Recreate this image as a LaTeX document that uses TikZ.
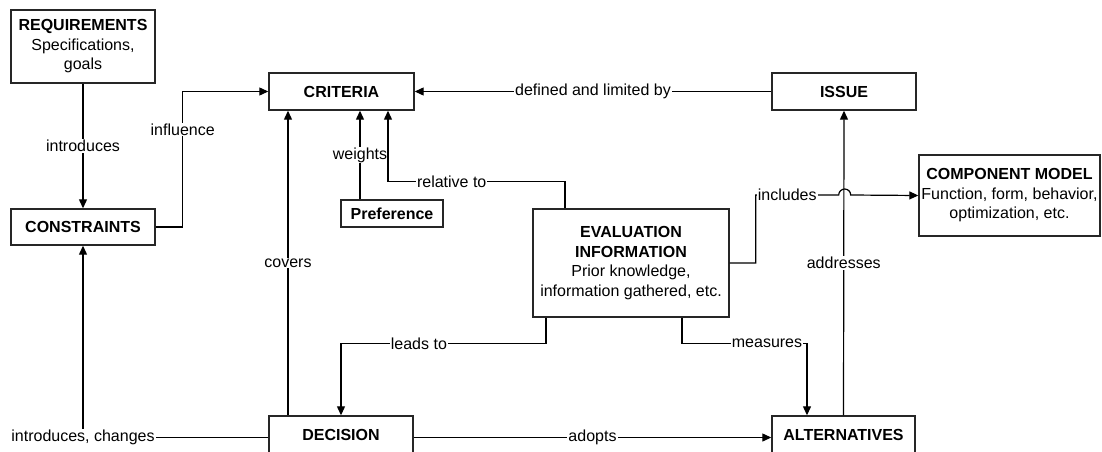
\documentclass[tikz,border=0pt]{standalone}
\usepackage{fontspec}
\setmainfont{Liberation Sans}
\usetikzlibrary{arrows.meta}
\begin{document}
\begin{tikzpicture}[x=1pt,y=-1pt,
  box/.style={draw=black!85, line width=1.4pt, inner sep=0pt, align=center,
    font=\fontsize{16}{19.5}\selectfont},
  lbl/.style={fill=white, inner sep=1pt, font=\fontsize{16}{19.5}\selectfont},
  arr/.style={line width=1.2pt, -{Triangle[length=9pt,width=8pt]}}]
\useasboundingbox (0,0) rectangle (1102,452);
% nodes
\node[box, minimum width=144pt, minimum height=73pt] (req) at (83,46.5)
  {\textbf{REQUIREMENTS}\\Specifications,\\goals};
\node[box, minimum width=144pt, minimum height=36pt] (cons) at (83,227) {\textbf{CONSTRAINTS}};
\node[box, minimum width=145pt, minimum height=37pt] (crit) at (341.5,91.5) {\textbf{CRITERIA}};
\node[box, minimum width=144pt, minimum height=37pt] (issue) at (844,91.5) {\textbf{ISSUE}};
\node[box, minimum width=102pt, minimum height=27pt] (pref) at (392,213.5) {\textbf{Preference}};
\node[box, minimum width=196pt, minimum height=108pt] (eval) at (631,263)
  {\textbf{EVALUATION}\\\textbf{INFORMATION}\\Prior knowledge,\\information gathered, etc.};
\node[box, minimum width=181pt, minimum height=81pt] (comp) at (1009.5,195.5)
  {\textbf{COMPONENT MODEL}\\Function, form, behavior,\\optimization, etc.};
\node[box, minimum width=144pt, minimum height=39pt] (dec) at (341,435.5) {\raisebox{2pt}{\textbf{DECISION}}};
\node[box, minimum width=143pt, minimum height=39pt] (alt) at (843.5,435.5) {\raisebox{2pt}{\textbf{ALTERNATIVES}}};
% connectors
\draw[arr] (req) -- node[lbl]{introduces} (cons);
\draw[arr] (cons.east) -- ++(27,0) |- node[lbl,pos=0.36]{influence} (crit.west);
\draw[arr] (issue.west) -- node[lbl]{defined and limited by} (crit.east);
\draw[arr] ([xshift=-32pt]pref.north) -- node[lbl]{weights} ([xshift=-32pt]pref.north |- crit.south);
\draw[arr] ([xshift=-66pt]eval.north) -- ++(0,-27) -| node[lbl,pos=0.32]{relative to} ([xshift=46.5pt]crit.south);
\draw[arr] (eval.east) -- ++(26,0) -- ++(0,-68) -- node[lbl,pos=0.38]{includes} ++(83,0)
  arc[start angle=180, end angle=0, radius=6pt] -- (comp.west);
\draw[arr] ([xshift=-85pt]eval.south) -- ++(0,26) -| node[lbl,pos=0.31]{leads to} (dec.north);
\draw[arr] ([xshift=51pt]eval.south) -- ++(0,26) -| node[lbl,pos=0.34]{measures} ([xshift=-36.5pt]alt.north);
\draw[arr] ([xshift=-53pt]dec.north) -- node[lbl]{covers} ([xshift=-53pt]dec.north |- crit.south);
\draw[arr] ([yshift=-2pt]dec.east) -- node[lbl]{adopts} ([yshift=-2pt]alt.west);
\draw[arr] ([yshift=-2pt]dec.west) -| node[lbl,pos=0.5]{introduces, changes} (cons.south);
\draw[arr] (alt.north) -- node[lbl]{addresses} (issue.south);
\end{tikzpicture}
\end{document}
